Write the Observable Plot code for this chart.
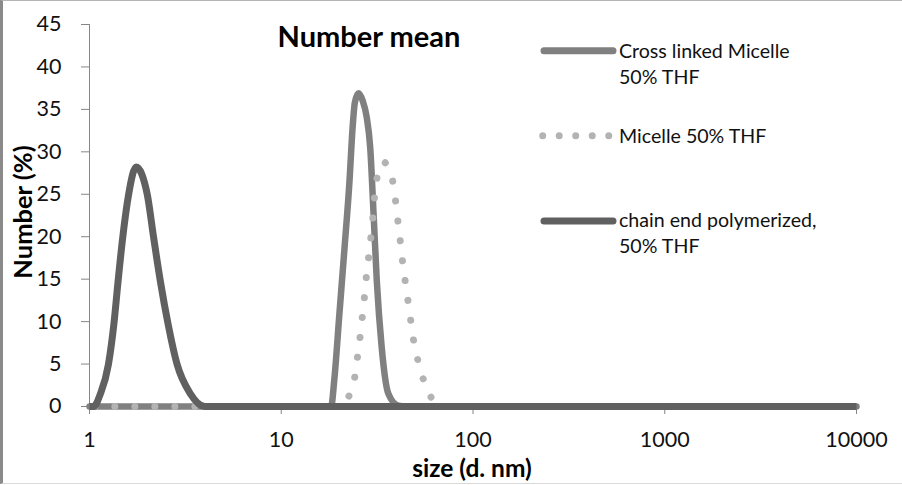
<!DOCTYPE html>
<html>
<head>
<meta charset="utf-8">
<script src="https://cdn.jsdelivr.net/npm/d3@7"></script>
<script src="https://cdn.jsdelivr.net/npm/@observablehq/plot@0.6"></script>
<style>
  html, body { margin: 0; padding: 0; background: #fff; }
  #wrap { position: relative; width: 902px; height: 485px; overflow: hidden; font-family: Lato, sans-serif; }
  #frame { position: absolute; left: 0; top: 0; width: 902px; height: 484px; box-sizing: border-box;
           border-left: 3px solid #8a8a8a; border-top: 1px solid #b5b5b5; border-bottom: 1px solid #d9d9d9; pointer-events: none; }
  #overlay { position: absolute; left: 0; top: 0; }
</style>
</head>
<body>
<div id="wrap"><div id="chart"></div><svg id="overlay" width="902" height="485"></svg><div id="frame"></div></div>
<script>
// ---- data ----
const crossX = [1, 18.2, 18.9, 20.1, 21.4, 22.7, 23.5, 24.2, 25.3, 26.6, 27.9, 29.1, 30.3, 31.5, 33.4, 36.2, 40.8, 45, 10000];
const crossY = [0, 0, 3.1, 10.9, 18.8, 26.6, 32.5, 35.8, 36.9, 36.0, 34.1, 30.5, 22.7, 14.8, 7.0, 1.5, 0.1, 0, 0];

const micelleX = [1, 20.8, 22.4, 24.1, 24.9, 25.7, 26.4, 27.1, 27.7, 28.5, 29.3, 30.0, 30.6, 31.5, 34.1, 38.0, 39.4, 40.5, 41.7, 42.8, 44.2, 45.7, 47.3, 48.9, 51.5, 54.9, 60.4, 65, 10000];
const micelleY = [0, 0, 1.1, 3.3, 5.6, 8.0, 10.3, 12.7, 15.0, 17.4, 19.8, 22.1, 24.5, 26.8, 28.8, 26.7, 24.3, 22.0, 19.6, 17.3, 14.9, 12.6, 10.2, 7.9, 5.5, 3.3, 1.1, 0, 0];

const chainX = [1, 1.05, 1.14, 1.256, 1.34, 1.41, 1.49, 1.60, 1.75, 2.0, 2.16, 2.34, 2.57, 2.86, 3.36, 4.0, 10000];
const chainY = [0, 0, 1.5, 5.0, 9.7, 14.8, 19.9, 25.0, 28.2, 25.0, 19.9, 14.8, 9.7, 5.0, 1.5, 0, 0];

const xTicks = [1, 10, 100, 1000, 10000];
const yTicks = [0, 5, 10, 15, 20, 25, 30, 35, 40, 45];

const seriesNames = ["Cross linked Micelle\n50% THF", "Micelle 50% THF", "chain end polymerized,\n50% THF"];
const titleText = "Number mean";
const xLabel = "size (d. nm)";
const yLabel = "Number (%)";

// ---- build tables ----
const toRows = (xs, ys) => xs.map((x, i) => ({x, y: ys[i]}));
const cross = toRows(crossX, crossY);
const micelle = toRows(micelleX, micelleY);
const chain = toRows(chainX, chainY);

const axisColor = "#868686";

const plot = Plot.plot({
  width: 902,
  height: 485,
  marginLeft: 89,
  marginRight: 46,
  marginTop: 24,
  marginBottom: 79,
  style: {fontFamily: "Lato, sans-serif", fontSize: "21px", color: "#000", background: "transparent"},
  x: {type: "log", domain: [1, 10000]},
  y: {domain: [0, 45]},
  marks: [
    Plot.ruleX([1], {stroke: axisColor, strokeWidth: 1}),
    Plot.ruleY([0], {stroke: axisColor, strokeWidth: 1}),
    Plot.axisY({ticks: yTicks, tickSize: 8, tickPadding: 20, stroke: axisColor, label: null, fill: "#111", fontSize: 21.5}),
    Plot.axisX({ticks: xTicks, tickSize: 8, tickPadding: 17, stroke: axisColor, label: null, fill: "#111", fontSize: 21.5, tickFormat: d => String(d)}),
    Plot.line(cross, {x: "x", y: "y", stroke: "#808080", strokeWidth: 6.5, curve: "monotone-x", strokeLinejoin: "round", strokeLinecap: "round"}),
    Plot.line(micelle, {x: "x", y: "y", stroke: "#b3b3b3", strokeWidth: 7, curve: "monotone-x", strokeLinecap: "round", strokeDasharray: "0.01 20", strokeDashoffset: 14.7}),
    Plot.line(chain, {x: "x", y: "y", stroke: "#606060", strokeWidth: 7, curve: "monotone-x", strokeLinejoin: "round", strokeLinecap: "butt"})
  ]
});
document.getElementById("chart").appendChild(plot);

// ---- overlay: title, axis titles, legend ----
const ov = d3.select("#overlay");
ov.append("text").attr("x", 369).attr("y", 47).attr("text-anchor", "middle")
  .attr("font-family", "Lato, sans-serif").attr("font-weight", "bold").attr("font-size", 29).attr("fill", "#000").text(titleText);
ov.append("text").attr("x", 472).attr("y", 477).attr("text-anchor", "middle")
  .attr("font-family", "Lato, sans-serif").attr("font-weight", "bold").attr("font-size", 24.5).attr("fill", "#000").text(xLabel);
ov.append("text").attr("transform", "translate(32,212) rotate(-90)").attr("text-anchor", "middle")
  .attr("font-family", "Lato, sans-serif").attr("font-weight", "bold").attr("font-size", 25.5).attr("fill", "#000").text(yLabel);

const legendItems = [
  {name: seriesNames[0], lineY: 50.7, textY: 57.7, color: "#808080", dash: null},
  {name: seriesNames[1], lineY: 135.7, textY: 142.7, color: "#b3b3b3", dash: "0.01 16.5"},
  {name: seriesNames[2], lineY: 221, textY: 227.3, color: "#606060", dash: null}
];
legendItems.forEach(it => {
  const ln = ov.append("line").attr("x1", 544).attr("x2", 613).attr("y1", it.lineY).attr("y2", it.lineY)
    .attr("stroke", it.color).attr("stroke-width", 7).attr("stroke-linecap", "round");
  if (it.dash) ln.attr("x1", 542.7).attr("x2", 609).attr("stroke-dasharray", it.dash);
  const t = ov.append("text").attr("x", 619).attr("y", it.textY)
    .attr("font-family", "Lato, sans-serif").attr("font-size", 19.6).attr("fill", "#111");
  it.name.split("\n").forEach((s, i) => {
    t.append("tspan").attr("x", 619).attr("dy", i === 0 ? 0 : 25.8).text(s);
  });
});
</script>
</body>
</html>
